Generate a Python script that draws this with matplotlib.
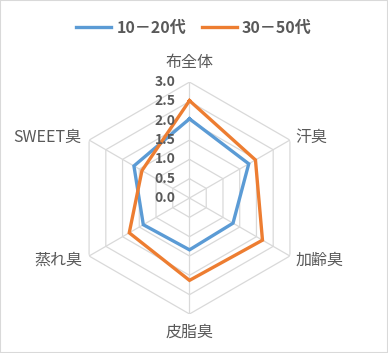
import numpy as np
import matplotlib
matplotlib.use("Agg")
import matplotlib.pyplot as plt
from matplotlib.patches import Rectangle

plt.rcParams['font.family'] = ['Noto Sans CJK JP', 'DejaVu Sans']

# data
categories = ["布全体", "汗臭", "加齢臭", "皮脂臭", "蒸れ臭", "SWEET臭"]
young = [2.05, 1.77, 1.30, 1.34, 1.38, 1.66]
older = [2.52, 1.97, 2.18, 2.13, 1.80, 1.42]
series_names = ["10－20代", "30－50代"]
r_ticks = [0.0, 0.5, 1.0, 1.5, 2.0, 2.5, 3.0]

# where each category label sits (angle in degrees from north, radius in data units)
label_theta = [0, 62.6, 114.7, 180, 245.2, 293.9]
label_r = [3.57, 3.54, 3.71, 3.41, 3.73, 4.02]

text_color = "#595959"
grid_color = "#D9D9D9"
colors = ["#5B9BD5", "#ED7D31"]

fig = plt.figure(figsize=(3.88, 3.53), dpi=100)
fig.patches.append(Rectangle((0, 0), 1, 1, transform=fig.transFigure,
                             fill=False, edgecolor="#D9D9D9", linewidth=1.5))

ax = fig.add_axes([0.1894, 0.1105, 0.598, 0.657], projection="polar")
ax.set_theta_zero_location("N")
ax.set_theta_direction(-1)
ax.set_ylim(0, 3.0)
ax.grid(False)
ax.spines["polar"].set_visible(False)
ax.set_xticks([])
ax.set_yticks([])
ax.patch.set_alpha(0)

n = len(categories)
angles = np.linspace(0, 2 * np.pi, n, endpoint=False)
closed = np.concatenate([angles, angles[:1]])

# hexagonal grid
for r in r_ticks[1:]:
    ax.plot(closed, [r] * (n + 1), color=grid_color, linewidth=0.9, zorder=1)
for a in angles:
    ax.plot([a, a], [0, r_ticks[-1]], color=grid_color, linewidth=0.9, zorder=1)

# series
for vals, col, name in zip([young, older], colors, series_names):
    ax.plot(closed, vals + vals[:1], color=col, linewidth=2.4, label=name,
            zorder=3, solid_joinstyle="miter")

# radial tick labels left of top axis
for r in r_ticks:
    ax.annotate(f"{r:.1f}", xy=(0, r), xytext=(-14, 0), textcoords="offset pixels",
                ha="right", va="center", fontsize=10, fontweight="bold",
                color=text_color, annotation_clip=False, zorder=4)

# category labels
for th, lab, lr in zip(label_theta, categories, label_r):
    ax.text(np.deg2rad(th), lr, lab, ha="center", va="center_baseline",
            fontsize=11.5, color=text_color, clip_on=False)

fig.legend(loc="upper center", bbox_to_anchor=(0.5, 0.985), ncol=2, frameon=False,
           handlelength=2.2, columnspacing=1.0, handletextpad=0.3,
           prop={"size": 11.5, "weight": "bold"}, labelcolor=text_color)

fig.savefig("out.png", dpi=100)
